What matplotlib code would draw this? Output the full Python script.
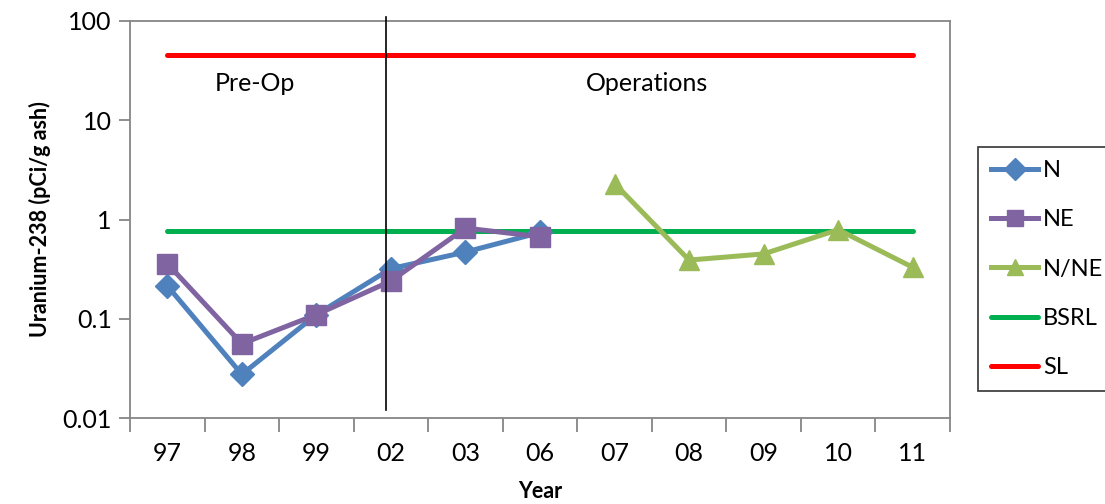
import numpy as np
import matplotlib.pyplot as plt

plt.rcParams['font.family'] = ['Lato', 'DejaVu Sans']

years = ["97", "98", "99", "02", "03", "06", "07", "08", "09", "10", "11"]

n_idx = [0, 1, 2, 3, 4, 5]
n_vals = [0.215, 0.0275, 0.11, 0.32, 0.47, 0.74]

ne_idx = [0, 1, 2, 3, 4, 5]
ne_vals = [0.36, 0.056, 0.11, 0.24, 0.82, 0.67]

nne_idx = [6, 7, 8, 9, 10]
nne_vals = [2.3, 0.39, 0.45, 0.79, 0.33]

bsrl = 0.76
sl = 45.0
split_pos = 2.93

fig = plt.figure(figsize=(11.05, 5.04), dpi=100)
ax = fig.add_axes([130 / 1105, 1 - 418 / 504, 820 / 1105, 397 / 504])

x_all = np.arange(len(years))
ax.plot(x_all, [sl] * len(years), color="#ff0000", lw=3.6, solid_capstyle="round", label="SL", zorder=2)
ax.plot(x_all, [bsrl] * len(years), color="#00b050", lw=3.6, solid_capstyle="round", label="BSRL", zorder=2)

ax.plot(n_idx, n_vals, color="#4f81bd", lw=3.6, marker="D", ms=12, label="N", zorder=3)
ax.plot(ne_idx, ne_vals, color="#8064a2", lw=3.6, marker="s", ms=14, label="NE", zorder=3)
ax.plot(nne_idx, nne_vals, color="#9bbb59", lw=3.6, marker="^", ms=15, label="N/NE", zorder=3)

# boundary between pre-operational and operational sampling
ax.axvline(split_pos, ymin=0.02, ymax=1.01, color="black", lw=1.2, clip_on=False, zorder=4)

ax.set_yscale("log")
ax.set_ylim(0.01, 100)
ax.set_xlim(-0.5, len(years) - 0.5)
ax.set_yticks([0.01, 0.1, 1, 10, 100])
ax.set_yticklabels(["0.01", "0.1", "1", "10", "100"])
ax.minorticks_off()
ax.set_xticks(x_all)
ax.set_xticklabels(years)
ax.set_xticks(np.arange(-0.5, len(years)), minor=True)
ax.tick_params(axis="x", which="major", length=0, pad=17, labelsize=18)
ax.tick_params(axis="x", which="minor", length=10, width=1.3, color="#868686")
ax.tick_params(axis="y", which="major", length=8, width=1.3, color="#868686", labelsize=18, pad=5)
for sp in ax.spines.values():
    sp.set_color("#868686")
    sp.set_linewidth(1.3)

ax.text(1.17, 23.5, "Pre-Op", ha="center", va="center", fontsize=18)
ax.text(6.43, 23.5, "Operations", ha="center", va="center", fontsize=18)

ax.set_ylabel("Uranium-238 (pCi/g ash)", fontsize=15.5, fontweight="bold", labelpad=8)
ax.set_xlabel("Year", fontsize=15.5, fontweight="bold", labelpad=12)

handles, labels = ax.get_legend_handles_labels()
order = [2, 3, 4, 1, 0]
leg = fig.legend([handles[i] for i in order], [labels[i] for i in order],
                 loc="upper left", bbox_to_anchor=(978 / 1105, 1 - 147 / 504),
                 fontsize=17, frameon=True, fancybox=False, edgecolor="black",
                 handlelength=2.0, labelspacing=1.2, borderpad=0.55, handletextpad=0.2,
                 borderaxespad=0)
leg.get_frame().set_linewidth(1.2)
for h in leg.legend_handles:
    if hasattr(h, "set_markersize"):
        h.set_markersize(11)

fig.savefig("out.png", dpi=100)
